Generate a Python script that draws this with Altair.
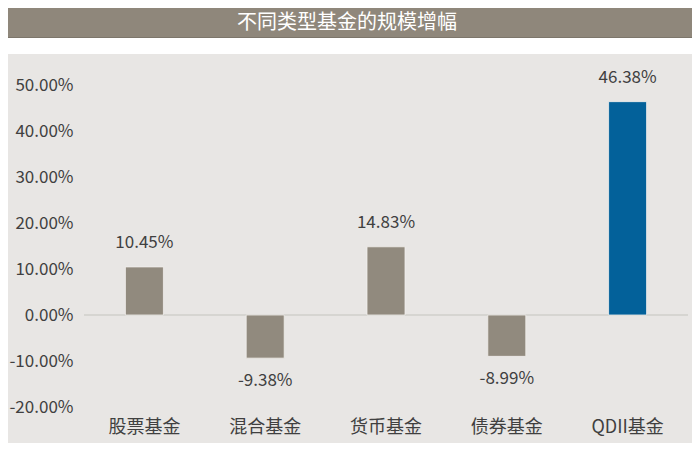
import altair as alt
import pandas as pd

# ---- data ----
title_text = "不同类型基金的规模增幅"
categories = ["股票基金", "混合基金", "货币基金", "债券基金", "QDII基金"]
values = [0.1045, -0.0938, 0.1483, -0.0899, 0.4638]
tick_values = [-0.2, -0.1, 0.0, 0.1, 0.2, 0.3, 0.4, 0.5]

FONT = "Noto Sans CJK SC"
TAUPE = "#918a7e"
BLUE = "#03619a"
BG = "#e8e6e4"
TEXT = "#404040"

df = pd.DataFrame({"cat": categories, "val": values})

W, H = 604, 353
PAD_L, PAD_T = 76, 46

fmt_expr = "replace(format(datum.value, '.2%'), '\u2212', '-')"

x = alt.X("cat:N", sort=categories, title=None,
          scale=alt.Scale(paddingInner=0, paddingOuter=0),
          axis=alt.Axis(labelAngle=0, labelFont=FONT, labelFontSize=18,
                        labelColor=TEXT, labelPadding=11, ticks=False,
                        domain=False, grid=False))
y = alt.Y("val:Q", title=None,
          scale=alt.Scale(domain=[-0.2, 0.5674], nice=False, zero=False),
          axis=alt.Axis(values=tick_values, labelExpr=fmt_expr, labelFont=FONT,
                        labelFontSize=17, labelColor=TEXT, labelPadding=11,
                        ticks=False, domain=False, grid=False))

base = alt.Chart(df).transform_calculate(
    lbl="replace(format(datum.val, '.2%'), '\u2212', '-')")

zero = alt.Chart(df).mark_rule(color="#d6d4d1", strokeWidth=1.5).encode(
    y=alt.datum(0), x=alt.value(0), x2=alt.value(W))

bars = alt.Chart(df).mark_bar(width=38, stroke="#f2f0ee", strokeWidth=0.8).encode(
    x=x, y=y, y2=alt.datum(0),
    color=alt.Color("cat:N", scale=alt.Scale(domain=categories,
                    range=[TAUPE, TAUPE, TAUPE, TAUPE, BLUE]), legend=None))

pos_labels = base.transform_filter("datum.val >= 0").mark_text(
    font=FONT, fontSize=17, color=TEXT, baseline="middle", dy=-24).encode(
    x=x, y=y, text="lbl:N")

neg_labels = base.transform_filter("datum.val < 0").mark_text(
    font=FONT, fontSize=17, color=TEXT, baseline="middle", dy=23).encode(
    x=x, y=y, text="lbl:N")

# title bar decoration
tdf = pd.DataFrame({"t": [title_text]})
tbar = alt.Chart(tdf).mark_rect(color="#8f877b").encode(
    x=alt.value(-PAD_L), x2=alt.value(W + 8),
    y=alt.value(-PAD_T), y2=alt.value(-16.5))
tline = alt.Chart(tdf).mark_rect(color="#7d766b").encode(
    x=alt.value(-PAD_L), x2=alt.value(W + 8),
    y=alt.value(-17), y2=alt.value(-16))
twhite = alt.Chart(tdf).mark_rect(color="#ffffff").encode(
    x=alt.value(-PAD_L), x2=alt.value(W + 8),
    y=alt.value(-16), y2=alt.value(0))
ttext = alt.Chart(tdf).mark_text(
    font=FONT, fontSize=20, color="#ffffff", align="center",
    baseline="middle").encode(
    text="t:N", x=alt.value(263), y=alt.value(-31))

chart = alt.layer(zero, bars, pos_labels, neg_labels, tbar, tline, twhite, ttext).properties(
    width=W, height=H,
    autosize=alt.AutoSizeParams(type="none"),
    padding={"left": PAD_L, "top": PAD_T, "right": 4, "bottom": 36},
    background=BG,
).configure_view(stroke=None)

chart.save("out.html", embed_options={"renderer": "svg", "actions": False})
